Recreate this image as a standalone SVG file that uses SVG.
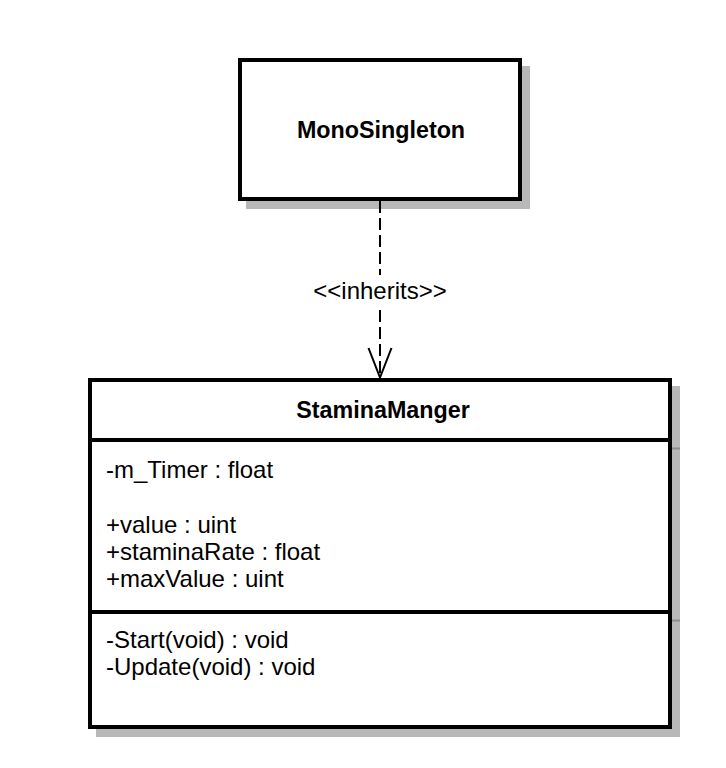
<svg xmlns="http://www.w3.org/2000/svg" width="726" height="768" viewBox="0 0 726 768">
  <style>
    .shadow { fill: #b8b8b8; stroke: #b8b8b8; stroke-width: 4; }
    .shline { stroke: #8c8c8c; stroke-width: 2; }
    .box { fill: #ffffff; stroke: #000000; stroke-width: 4; }
    .sep { stroke: #000000; stroke-width: 4; }
    .title { font-family: "Liberation Sans", Arial, sans-serif; font-weight: bold; font-size: 23.3px; fill: #000000; text-anchor: middle; }
    .txt { font-family: "Liberation Sans", Arial, sans-serif; font-size: 24px; fill: #000000; }
    .lbl { font-family: "Liberation Sans", Arial, sans-serif; font-size: 24px; fill: #000000; text-anchor: middle; }
    .dep { fill: none; stroke: #000000; stroke-width: 2; stroke-dasharray: 12 5; }
    .head { fill: none; stroke: #000000; stroke-width: 2; }
  </style>
  <rect width="726" height="768" fill="#ffffff"/>
  <g id="MonoSingleton">
    <rect class="shadow" x="248" y="68" width="280" height="139"/>
    <rect class="box" x="240" y="60" width="280" height="139"/>
    <text class="title" x="381" y="138">MonoSingleton</text>
  </g>
  <g id="StaminaManger">
    <rect class="shadow" x="98" y="388" width="580" height="347"/>
    <line class="shline" x1="672" y1="448.5" x2="680" y2="448.5"/>
    <line class="shline" x1="672" y1="620.5" x2="680" y2="620.5"/>
    <rect class="box" x="90" y="380" width="580" height="347"/>
    <line class="sep" x1="90" y1="440" x2="670" y2="440"/>
    <line class="sep" x1="90" y1="612" x2="670" y2="612"/>
    <text class="title" x="383" y="418">StaminaManger</text>
    <text class="txt" x="106" y="478">-m_Timer : float</text>
    <text class="txt" x="106" y="532.5">+value : uint</text>
    <text class="txt" x="106" y="559.8">+staminaRate : float</text>
    <text class="txt" x="106" y="587">+maxValue : uint</text>
    <text class="txt" x="106" y="648.3">-Start(void) : void</text>
    <text class="txt" x="106" y="675.3">-Update(void) : void</text>
  </g>
  <g id="connectors">
    <g id="inherits">
      <path class="dep" d="M380 201 V275 M380 310 V377"/>
      <polyline class="head" points="368.5,348 380,377.5 391.5,348"/>
      <text class="lbl" x="380" y="299">&lt;&lt;inherits&gt;&gt;</text>
    </g>
  </g>
</svg>
